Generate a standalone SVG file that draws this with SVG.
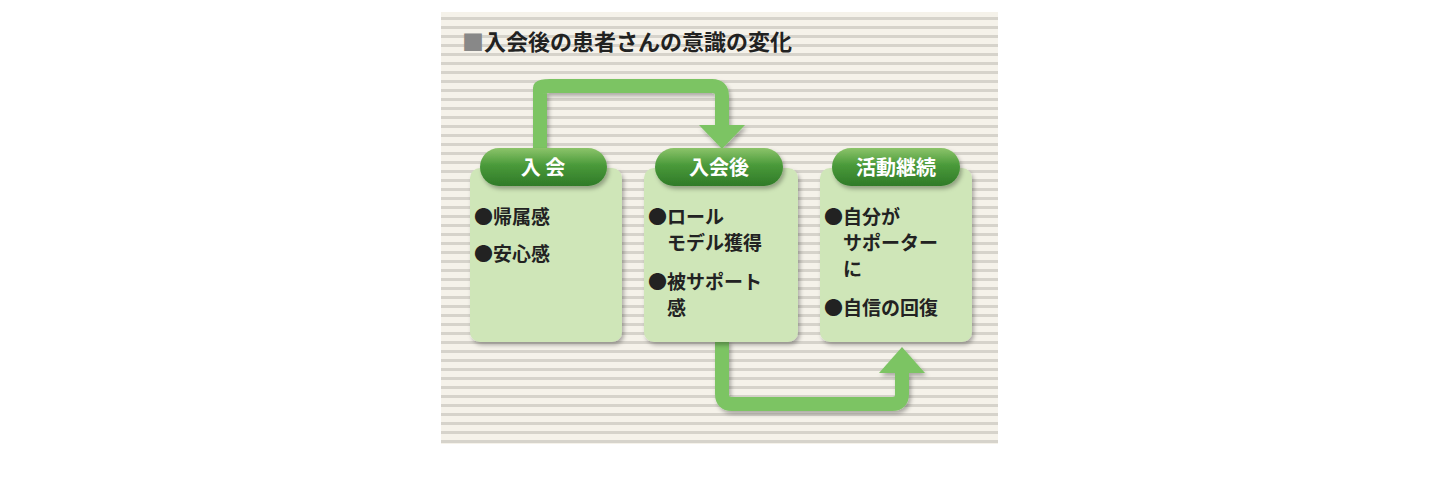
<svg xmlns="http://www.w3.org/2000/svg" width="1440" height="480" viewBox="0 0 1440 480">
<defs>
<pattern id="stripes" x="0" y="12" width="9" height="9" patternUnits="userSpaceOnUse">
<rect width="9" height="9" fill="#f5f2ea"/><rect y="5" width="9" height="3" fill="#d6d3cb"/>
</pattern>
<linearGradient id="pill" x1="0" y1="0" x2="0" y2="1">
<stop offset="0" stop-color="#8cc46a"/><stop offset="0.45" stop-color="#4a9a3a"/><stop offset="1" stop-color="#2f7a28"/>
</linearGradient>
<filter id="sh" x="-10%" y="-10%" width="130%" height="130%"><feDropShadow dx="2" dy="3" stdDeviation="2" flood-color="#000" flood-opacity="0.3"/></filter>
</defs>
<style>
.box{fill:#cfe6b8;filter:url(#sh)}
.pill{fill:url(#pill);filter:url(#sh)}
.pt{font-family:"Noto Sans CJK JP",sans-serif;font-weight:bold;font-size:20px;fill:#fff;text-anchor:middle}
.t{font-family:"Noto Sans CJK JP",sans-serif;font-weight:bold;font-size:19px;fill:#222}
.arr{fill:none;stroke:#7cc464;stroke-width:14;stroke-linejoin:round}
.head{fill:#7cc464}
</style>
<rect width="1440" height="480" fill="#fff"/>
<rect x="441" y="12" width="557" height="432" fill="url(#stripes)"/>
<text x="462" y="50" font-family="'Noto Sans CJK JP',sans-serif" font-weight="bold" font-size="22" fill="#222"><tspan fill="#888">■</tspan>入会後の患者さんの意識の変化</text>
<g id="connectors" filter="url(#sh)">
<path class="arr" d="M540 152 V88 Q540 86 550 86 H712 Q722 86 722 96 V128"/>
<polygon class="head" points="699,125 745,125 722,149"/>
<path class="arr" d="M722 340 V394 Q722 404 732 404 H892 Q902 404 902 394 V370"/>
<polygon class="head" points="879,373 925,373 902,347"/>
</g>
<g id="n1"><rect class="box" x="470" y="168" width="152" height="174" rx="10"/>
<rect class="pill" x="480" y="148" width="127" height="38" rx="19"/><text class="pt" x="543" y="175">入 会</text>
<text class="t" x="474" y="224">●帰属感</text><text class="t" x="474" y="261">●安心感</text></g>
<g id="n2"><rect class="box" x="644" y="168" width="154" height="174" rx="10"/>
<rect class="pill" x="655" y="148" width="128" height="38" rx="19"/><text class="pt" x="719" y="175">入会後</text>
<text class="t" x="648" y="224">●ロール</text><text class="t" x="667" y="250">モデル獲得</text>
<text class="t" x="648" y="289">●被サポート</text><text class="t" x="667" y="315">感</text></g>
<g id="n3"><rect class="box" x="820" y="168" width="152" height="174" rx="10"/>
<rect class="pill" x="832" y="148" width="128" height="38" rx="19"/><text class="pt" x="896" y="175">活動継続</text>
<text class="t" x="824" y="224">●自分が</text><text class="t" x="843" y="250">サポーター</text><text class="t" x="843" y="276">に</text>
<text class="t" x="824" y="315">●自信の回復</text></g>
</svg>
